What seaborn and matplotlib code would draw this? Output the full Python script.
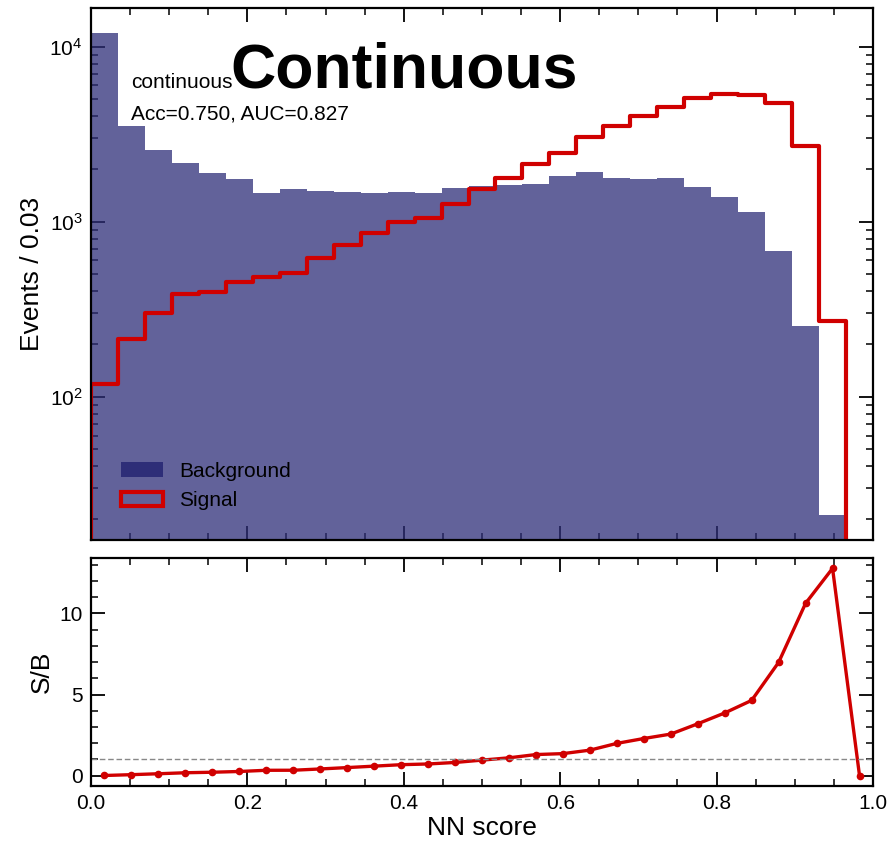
import numpy as np
import pandas as pd
import matplotlib
matplotlib.use("Agg")
import matplotlib.pyplot as plt
from matplotlib.patches import Patch
from matplotlib.ticker import MultipleLocator, LogLocator, NullFormatter, FormatStrFormatter
import seaborn as sns

# 29 equal-width bins of the network output on [0, 1]
bin_edges = list(np.linspace(0.0, 1.0, 30))

background = [11930, 3524, 2570, 2157, 1890, 1754, 1465, 1531, 1498, 1479,
              1465, 1479, 1465, 1552, 1606, 1622, 1636, 1824, 1931, 1771,
              1754, 1771, 1585, 1389, 1141, 680, 255, 21.2, 0]
signal = [118, 213, 302, 386, 398, 451, 485, 511, 618, 736,
          859, 1000, 1055, 1262, 1538, 1784, 2128, 2478, 3036, 3524,
          4018, 4540, 5069, 5370, 5296, 4750, 2710, 271, 0]

sample_tag = "continuous"
model_name = "Continuous"
metrics_text = "Acc=0.750, AUC=0.827"

edges = np.asarray(bin_edges)
bkg = np.asarray(background, dtype=float)
sig = np.asarray(signal, dtype=float)
centers = 0.5 * (edges[:-1] + edges[1:])
s_over_b = np.divide(sig, bkg, out=np.zeros_like(sig), where=bkg > 0)
hist_df = pd.DataFrame({"score": centers, "bkg": bkg, "sig": sig, "sb": s_over_b})

sns.set_style("ticks")
plt.rcParams["font.family"] = ["Liberation Sans", "DejaVu Sans"]
plt.rcParams["mathtext.default"] = "regular"
plt.rcParams["axes.linewidth"] = 1.6
for key in ("text.color", "axes.labelcolor", "xtick.color", "ytick.color",
            "axes.edgecolor"):
    plt.rcParams[key] = "black"

navy = "#2e2e78"
red = "#d00000"

fig = plt.figure(figsize=(8.91, 8.47), dpi=100)
ax_top = fig.add_axes([0.1021, 0.3625, 0.8777, 0.6275])
ax_bot = fig.add_axes([0.1021, 0.0720, 0.8777, 0.2692], sharex=ax_top)

# --- main panel: score distributions ---
sns.histplot(data=hist_df, x="score", weights="bkg", bins=bin_edges, element="step",
             fill=True, color=navy, alpha=0.75, linewidth=0, ax=ax_top)
sns.histplot(data=hist_df, x="score", weights="sig", bins=bin_edges, element="step",
             fill=True, color=red, facecolor="none", edgecolor=red,
             linewidth=3.0, ax=ax_top)
ax_top.set_yscale("log")
ax_top.set_ylim(15.2, 16500)
ax_top.set_xlim(0.0, 1.0)
ax_top.set_ylabel("Events / 0.03", fontsize=19)
ax_top.set_xlabel("")
ax_top.yaxis.set_major_locator(LogLocator(base=10))
ax_top.yaxis.set_minor_locator(LogLocator(base=10, subs=np.arange(2, 10)))
ax_top.yaxis.set_minor_formatter(NullFormatter())

ax_top.text(0.0512, 0.8504, sample_tag, transform=ax_top.transAxes,
            fontsize=15, va="baseline", ha="left")
ax_top.text(0.1777, 0.8504, model_name, transform=ax_top.transAxes,
            fontsize=45, fontweight="bold", va="baseline", ha="left")
ax_top.text(0.0512, 0.7902, metrics_text, transform=ax_top.transAxes,
            fontsize=15, va="baseline", ha="left")

handles = [Patch(facecolor=navy, edgecolor="none", label="Background"),
           Patch(facecolor="none", edgecolor=red, linewidth=3.0, label="Signal")]
ax_top.legend(handles=handles, loc="lower left", bbox_to_anchor=(0.0276, 0.04),
              borderaxespad=0, frameon=False, fontsize=15)

# --- ratio panel ---
sns.lineplot(data=hist_df, x="score", y="sb", ax=ax_bot, color=red, linewidth=2.4,
             marker="o", markersize=5.5, markeredgewidth=0)
ax_bot.axhline(1.0, color="#888888", linestyle="--", linewidth=1.0, dashes=(4, 2))
ax_bot.set_xlim(0.0, 1.0)
ax_bot.set_ylabel("S/B", fontsize=19)
ax_bot.set_xlabel("NN score", fontsize=19, labelpad=2)
ax_bot.yaxis.set_major_locator(MultipleLocator(5))
ax_bot.yaxis.set_minor_locator(MultipleLocator(1))
ax_bot.xaxis.set_major_locator(MultipleLocator(0.2))
ax_bot.xaxis.set_minor_locator(MultipleLocator(0.05))
ax_bot.xaxis.set_major_formatter(FormatStrFormatter("%.1f"))

for ax in (ax_top, ax_bot):
    ax.tick_params(which="both", direction="in", top=True, right=True,
                   labelsize=15, pad=6)
    ax.tick_params(which="major", length=10, width=1.3)
    ax.tick_params(which="minor", length=5, width=1.1)
    for s in ax.spines.values():
        s.set_visible(True)
        s.set_linewidth(1.6)
ax_top.tick_params(labelbottom=False)

fig.savefig("out.png", dpi=100)
